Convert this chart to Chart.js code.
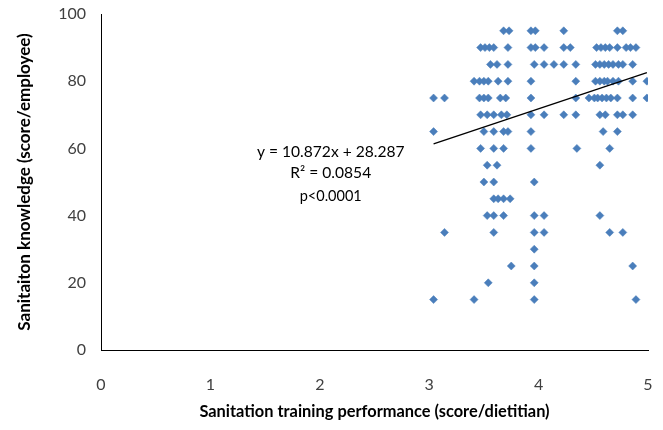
<!DOCTYPE html>
<html>
<head>
<meta charset="utf-8">
<script src="https://cdn.jsdelivr.net/npm/chart.js@4/dist/chart.umd.min.js"></script>
<style>
  html, body { margin: 0; padding: 0; background: #fff; }
  #wrap { width: 663px; height: 430px; position: relative; }
</style>
</head>
<body>
<div id="wrap"><canvas id="c" width="663" height="430"></canvas></div>
<script>
// Sanitation training performance (score/dietitian) – x values, grouped by knowledge row
const row95 = [3.68, 3.73, 3.93, 3.97, 4.23, 4.72, 4.77];
const row90 = [3.47, 3.51, 3.55, 3.59, 3.72, 3.93, 3.97, 4.05, 4.23, 4.29, 4.53, 4.57, 4.61, 4.65, 4.72, 4.80, 4.84, 4.89];
const row85 = [3.56, 3.62, 3.72, 3.96, 4.05, 4.14, 4.23, 4.34, 4.52, 4.56, 4.60, 4.64, 4.68, 4.73, 4.77, 4.86];
const row80 = [3.41, 3.46, 3.50, 3.54, 3.63, 3.72, 3.93, 4.34, 4.52, 4.56, 4.60, 4.63, 4.68, 4.73, 4.86, 4.99];
const row75 = [3.04, 3.14, 3.46, 3.50, 3.54, 3.65, 3.70, 3.93, 4.34, 4.46, 4.51, 4.54, 4.58, 4.62, 4.66, 4.72, 4.86, 4.99];
const row70 = [3.47, 3.53, 3.59, 3.66, 3.71, 3.93, 4.05, 4.23, 4.34, 4.56, 4.61, 4.72, 4.77, 4.86];
const row65 = [3.04, 3.50, 3.59, 3.68, 3.72, 3.93, 4.59, 4.72];
const row60 = [3.47, 3.59, 3.68, 3.93, 4.35, 4.65];
const row55 = [3.53, 3.62, 4.56];
const row50 = [3.50, 3.59, 3.96];
const row45 = [3.59, 3.63, 3.68, 3.74];
const row40 = [3.53, 3.59, 3.68, 3.96, 4.05, 4.56];
const row35 = [3.14, 3.59, 3.96, 4.05, 4.65, 4.77];
const row30 = [3.96];
const row25 = [3.75, 3.96, 4.86];
const row20 = [3.54, 3.96];
const row15 = [3.04, 3.41, 3.96, 4.89];

// Sanitation knowledge (score/employee) level of each row
const knowledgeLevels = [95, 90, 85, 80, 75, 70, 65, 60, 55, 50, 45, 40, 35, 30, 25, 20, 15];
const trainingRows = [row95, row90, row85, row80, row75, row70, row65, row60, row55, row50, row45, row40, row35, row30, row25, row20, row15];

// Excel linear trendline as printed on the chart
const trendSlope = 10.872;
const trendIntercept = 28.287;
const trendRange = [3.04, 4.99];
const trendLabels = ['y = 10.872x + 28.287', 'R\u00B2 = 0.0854', 'p<0.0001'];

const xTicks = [0, 1, 2, 3, 4, 5];
const yTicks = [0, 20, 40, 60, 80, 100];

const points = [];
trainingRows.forEach((row, i) => row.forEach(x => points.push({ x: x, y: knowledgeLevels[i] })));
const trendPoints = trendRange.map(x => ({ x: x, y: trendSlope * x + trendIntercept }));

const FONT = 'Lato, "Open Sans", sans-serif';

const annotationPlugin = {
  id: 'trendText',
  afterDatasetsDraw(chart) {
    const ctx = chart.ctx;
    const xs = chart.scales.x, ys = chart.scales.y;
    const cx = xs.getPixelForValue(2.1);
    const yVals = [58.9, 52.7, 45.6];
    ctx.save();
    ctx.fillStyle = '#000';
    ctx.textAlign = 'center';
    ctx.textBaseline = 'middle';
    trendLabels.forEach((t, i) => {
      ctx.font = (i === 2 ? '14.5px ' : '15.6px ') + FONT;
      ctx.fillText(t, cx, ys.getPixelForValue(yVals[i]));
    });
    ctx.restore();
  }
};

new Chart(document.getElementById('c'), {
  type: 'scatter',
  data: {
    datasets: [
      {
        data: points,
        pointStyle: 'rectRot',
        pointRadius: 4,
        pointHoverRadius: 4,
        backgroundColor: '#4A7EBB',
        borderColor: '#4A7EBB',
        borderWidth: 0.5,
        order: 2
      },
      {
        type: 'line',
        data: trendPoints,
        borderColor: '#000',
        borderWidth: 1.3,
        pointRadius: 0,
        fill: false,
        order: 1
      }
    ]
  },
  options: {
    responsive: false,
    animation: false,
    events: [],
    layout: { padding: { left: 0, right: 15, top: 14, bottom: 0 } },
    plugins: { legend: { display: false }, tooltip: { enabled: false } },
    scales: {
      x: {
        type: 'linear',
        min: 0, max: 5,
        afterBuildTicks: s => { s.ticks = xTicks.map(v => ({ value: v })); },
        afterFit: s => { s.height = 80; s.paddingLeft = 0; s.paddingRight = 0; },
        grid: { display: false, drawTicks: false },
        border: { display: true, color: '#000', width: 1 },
        ticks: { padding: 25, color: '#404040', font: { family: FONT, size: 16 } },
        title: {
          display: true,
          text: 'Sanitation training performance (score/dietitian)',
          color: '#000',
          font: { family: FONT, size: 16.4, weight: 'bold' },
          padding: { top: 0, bottom: 8 }
        }
      },
      y: {
        type: 'linear',
        min: 0, max: 100,
        afterBuildTicks: s => { s.ticks = yTicks.map(v => ({ value: v })); },
        afterFit: s => { s.width = 101; s.paddingTop = 0; s.paddingBottom = 0; },
        grid: { display: false, drawTicks: false },
        border: { display: true, color: '#000', width: 1 },
        ticks: { padding: 15, color: '#404040', font: { family: FONT, size: 16 } },
        title: {
          display: true,
          text: 'Sanitaiton knowledge (score/employee)',
          color: '#000',
          font: { family: FONT, size: 17, weight: 'bold' },
          padding: { top: 14, bottom: 0 }
        }
      }
    }
  },
  plugins: [annotationPlugin]
});
</script>
</body>
</html>
